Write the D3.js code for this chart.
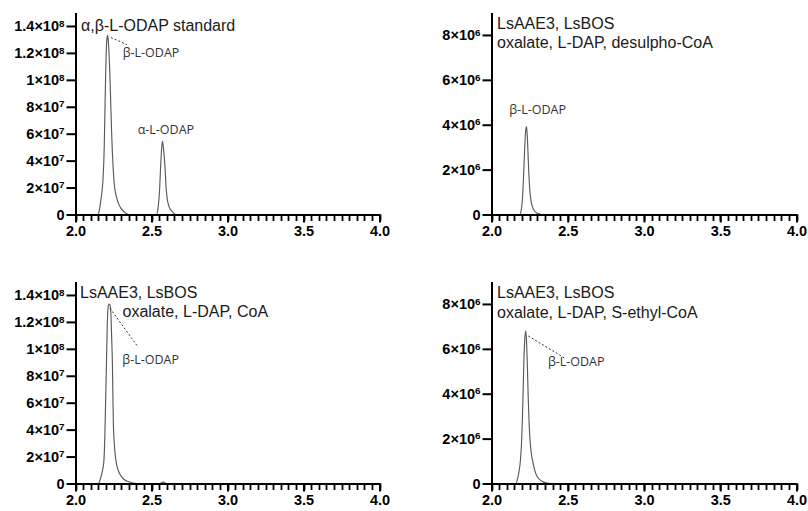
<!DOCTYPE html>
<html>
<head>
<meta charset="utf-8">
<script src="https://cdn.jsdelivr.net/npm/d3@7"></script>
<style>
  html, body { margin: 0; padding: 0; background: #fff; }
  svg { display: block; }
</style>
</head>
<body>
<svg id="chart" width="808" height="511"></svg>
<script>
// Extracted-ion chromatograms: retention time (min) and signal intensity

// α,β-L-ODAP reference standard
const standardTime = [2.00, 2.149, 2.158, 2.166, 2.175, 2.182, 2.189, 2.195, 2.200, 2.205, 2.2105,
  2.215, 2.220, 2.226, 2.232, 2.238, 2.243, 2.248, 2.254, 2.262, 2.272, 2.285, 2.300, 2.315, 2.330, 2.348,
  2.533, 2.542, 2.548, 2.554, 2.559, 2.565, 2.572, 2.578, 2.584, 2.590, 2.596, 2.603, 2.615, 2.630, 2.645, 2.660, 4.00];
const standardSignal = [0, 0, 4e6, 1.0e7, 1.8e7, 2.8e7, 5.0e7, 8.5e7, 1.12e8, 1.28e8, 1.33e8,
  1.30e8, 1.21e8, 1.05e8, 8.2e7, 6.0e7, 4.5e7, 3.4e7, 2.4e7, 1.7e7, 1.2e7, 7.5e6, 4.5e6, 2.5e6, 1.0e6, 0,
  0, 4e6, 1.0e7, 2.0e7, 3.3e7, 4.6e7, 5.45e7, 5.0e7, 4.3e7, 3.3e7, 2.0e7, 1.2e7, 6e6, 3e6, 1.2e6, 0, 0];

// LsAAE3 + LsBOS with desulpho-CoA
const desulphoTime = [2.00, 2.188, 2.195, 2.203, 2.209, 2.215, 2.220, 2.225, 2.2295, 2.234, 2.239,
  2.245, 2.251, 2.258, 2.268, 2.280, 2.295, 2.315, 2.330, 4.00];
const desulphoSignal = [0, 0, 2e5, 7e5, 1.5e6, 2.5e6, 3.3e6, 3.8e6, 3.92e6, 3.6e6, 2.8e6,
  1.8e6, 1.1e6, 6.5e5, 3.5e5, 1.8e5, 8e4, 2e4, 0, 0];

// LsAAE3 + LsBOS with CoA
const coaTime = [2.00, 2.150, 2.165, 2.178, 2.187, 2.193, 2.198, 2.204, 2.209, 2.214, 2.219, 2.226,
  2.232, 2.238, 2.243, 2.246, 2.249, 2.255, 2.266, 2.280, 2.300, 2.320, 2.345, 2.370, 2.400,
  2.555, 2.566, 2.577, 2.588, 2.600, 4.00];
const coaSignal = [0, 0, 4e6, 1.0e7, 1.7e7, 3.5e7, 6.0e7, 9.1e7, 1.18e8, 1.30e8, 1.33e8, 1.33e8,
  1.28e8, 1.08e8, 8.8e7, 6.5e7, 4.5e7, 3.0e7, 1.7e7, 1.0e7, 5.5e6, 3.0e6, 1.5e6, 6e5, 0,
  0, 5e5, 1.2e6, 5e5, 0, 0];

// LsAAE3 + LsBOS with S-ethyl-CoA
const ethylTime = [2.00, 2.160, 2.172, 2.182, 2.190, 2.197, 2.203, 2.208, 2.213, 2.218, 2.225,
  2.230, 2.235, 2.240, 2.246, 2.253, 2.262, 2.273, 2.285, 2.300, 2.320, 2.345, 2.380, 4.00];
const ethylSignal = [0, 0, 2.5e5, 6e5, 1.05e6, 1.8e6, 3.0e6, 4.3e6, 5.6e6, 6.4e6, 6.8e6,
  6.3e6, 5.3e6, 4.0e6, 2.8e6, 1.9e6, 1.3e6, 9e5, 5.5e5, 3e5, 1.5e5, 5e4, 0, 0];

// Axis ticks
const highTicks = [0, 2e7, 4e7, 6e7, 8e7, 1e8, 1.2e8, 1.4e8];
const lowTicks = [0, 2e6, 4e6, 6e6, 8e6];
const timeTicks = [2.0, 2.5, 3.0, 3.5, 4.0];

// Panel headings and peak labels
const standardTitle = ["α,β-L-ODAP standard"];
const desulphoTitle = ["LsAAE3, LsBOS", "oxalate, L-DAP, desulpho-CoA"];
const coaTitle = ["LsAAE3, LsBOS", "oxalate, L-DAP, CoA"];
const ethylTitle = ["LsAAE3, LsBOS", "oxalate, L-DAP, S-ethyl-CoA"];
const betaLabel = "β-L-ODAP";
const alphaLabel = "α-L-ODAP";

const svg = d3.select("#chart");

const panels = [
  { time: standardTime, signal: standardSignal, yMax: 1.5e8, ticks: highTicks,
    x0: 75.5, x1: 379.5, y0: 214.5, y1: 12.5,
    title: standardTitle, titlePos: [[5.5, 18.5]],
    labels: [
      { text: betaLabel, t: 2.3105, v: 1.17e8, leader: [[2.2336, 1.314e8], [2.3388, 1.262e8]] },
      { text: alphaLabel, t: 2.409, v: 6.01e7 }
    ] },
  { time: desulphoTime, signal: desulphoSignal, yMax: 9e6, ticks: lowTicks,
    x0: 491.5, x1: 796.5, y0: 214.5, y1: 12.5,
    title: desulphoTitle, titlePos: [[5.5, 16], [5.5, 35]],
    labels: [
      { text: betaLabel, t: 2.117, v: 4.5e6 }
    ] },
  { time: coaTime, signal: coaSignal, yMax: 1.5e8, ticks: highTicks,
    x0: 75.5, x1: 379.5, y0: 483.5, y1: 281.5,
    title: coaTitle, titlePos: [[4.5, 16], [47, 35.5]],
    labels: [
      { text: betaLabel, t: 2.308, v: 8.84e7, leader: [[2.227, 1.301e8], [2.413, 1.011e8]] }
    ] },
  { time: ethylTime, signal: ethylSignal, yMax: 9e6, ticks: lowTicks,
    x0: 491.5, x1: 796.5, y0: 483.5, y1: 281.5,
    title: ethylTitle, titlePos: [[5.5, 16.5], [5.5, 36]],
    labels: [
      { text: betaLabel, t: 2.37, v: 5.235e6, leader: [[2.242, 6.57e6], [2.477, 5.6e6]] }
    ] }
];

// "m×10ⁿ" tick text with a raised exponent
function sciLabel(sel, v) {
  sel.text(null);
  if (v === 0) { sel.append("tspan").text("0"); return; }
  const e = Math.floor(Math.log10(v) + 1e-9);
  const m = +(v / Math.pow(10, e)).toFixed(2);
  sel.append("tspan").text(m + "×10");
  sel.append("tspan").attr("dy", "-0.45em").attr("font-size", "0.68em").text(e);
}

panels.forEach(p => {
  const x = d3.scaleLinear().domain([2.0, 4.0]).range([p.x0, p.x1]);
  const y = d3.scaleLinear().domain([0, p.yMax]).range([p.y0, p.y1]);
  const g = svg.append("g");

  // chromatogram trace
  const pts = p.time.map((t, i) => [t, p.signal[i]]);
  g.append("path")
    .datum(pts)
    .attr("fill", "none")
    .attr("stroke", "#5a5a5a")
    .attr("stroke-width", 1.15)
    .attr("d", d3.line().x(d => x(d[0])).y(d => y(d[1])).curve(d3.curveMonotoneX));

  // minor x ticks every 0.05 min
  g.append("g")
    .selectAll("line")
    .data(x.ticks(40))
    .join("line")
    .attr("x1", d => Math.round(x(d)) + 0.5)
    .attr("x2", d => Math.round(x(d)) + 0.5)
    .attr("y1", p.y0)
    .attr("y2", p.y0 + 6.5)
    .attr("stroke", "#000")
    .attr("stroke-width", 1.8);

  // major x ticks
  g.append("g")
    .attr("transform", `translate(0,${p.y0})`)
    .call(d3.axisBottom(x).tickValues(timeTicks).tickSize(8).tickSizeOuter(0).tickFormat(d3.format(".1f")))
    .call(a => a.select(".domain").attr("stroke", "#000").attr("stroke-width", 2))
    .call(a => a.selectAll("line").attr("stroke", "#000").attr("stroke-width", 2))
    .call(a => a.selectAll("text")
      .attr("y", 11)
      .attr("font-family", "'Liberation Sans', Arial, sans-serif")
      .attr("font-weight", "bold")
      .attr("font-size", 14.5)
      .attr("fill", "#000"));

  // y axis
  g.append("g")
    .attr("transform", `translate(${p.x0},0)`)
    .call(d3.axisLeft(y).tickValues(p.ticks).tickSize(9).tickSizeOuter(0).tickPadding(2))
    .call(a => a.select(".domain").attr("stroke", "#000").attr("stroke-width", 2))
    .call(a => a.selectAll("line").attr("stroke", "#000").attr("stroke-width", 2))
    .call(a => a.selectAll("text")
      .attr("font-family", "'Liberation Sans', Arial, sans-serif")
      .attr("font-weight", "bold")
      .attr("font-size", 14.5)
      .attr("fill", "#000")
      .each(function(d) { sciLabel(d3.select(this), d); }));

  // panel heading
  p.title.forEach((line, i) => {
    g.append("text")
      .attr("x", p.x0 + p.titlePos[i][0])
      .attr("y", p.y1 + p.titlePos[i][1])
      .attr("font-family", "'Liberation Sans', Arial, sans-serif")
      .attr("font-size", 16)
      .attr("fill", "#1a1a1a")
      .text(line);
  });

  // peak labels with dashed leaders
  p.labels.forEach(l => {
    if (l.leader) {
      g.append("line")
        .attr("x1", x(l.leader[0][0])).attr("y1", y(l.leader[0][1]))
        .attr("x2", x(l.leader[1][0])).attr("y2", y(l.leader[1][1]))
        .attr("stroke", "#333")
        .attr("stroke-width", 1)
        .attr("stroke-dasharray", "2,2");
    }
    g.append("text")
      .attr("x", x(l.t))
      .attr("y", y(l.v))
      .attr("font-family", "'Open Sans', sans-serif")
      .attr("font-size", 12.5)
      .attr("fill", "#333")
      .text(l.text);
  });
});
</script>
</body>
</html>
